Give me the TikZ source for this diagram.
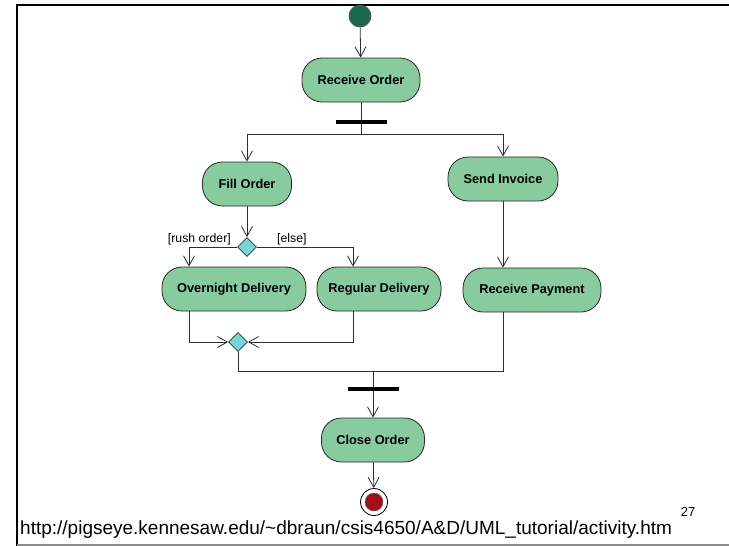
\documentclass[tikz,border=0pt]{standalone}
\usepackage{fontspec}
\setmainfont{Liberation Sans}
\usetikzlibrary{arrows.meta,shapes.geometric}
\definecolor{actgreen}{RGB}{135,203,158}
\definecolor{startgreen}{RGB}{28,104,78}
\definecolor{diamcyan}{RGB}{118,214,216}
\definecolor{finalred}{RGB}{160,16,24}
\definecolor{linegray}{RGB}{45,45,45}
\begin{document}
\begin{tikzpicture}[x=1pt,y=-1pt,
  act/.style={draw=black!85, line width=0.8pt, fill=actgreen, rounded corners=20pt,
    minimum height=44pt, inner sep=0pt, font=\fontsize{12.8}{14}\selectfont\bfseries},
  syncbar/.style={fill=black, inner sep=0pt, minimum width=51pt, minimum height=4.5pt},
  decision/.style={diamond, draw=black!80, line width=0.7pt, fill=diamcyan, inner sep=0pt, minimum size=19pt},
  flow/.style={draw=linegray, line width=0.8pt},
  arr/.style={flow, -{Straight Barb[length=10pt,width=11pt,line width=0.8pt]}},
  guard/.style={font=\fontsize{12.3}{14}\selectfont, inner sep=0pt}]
\useasboundingbox (0,0) rectangle (729,546);
% frame
\draw[line width=2.5pt] (17,546) -- (17,5) -- (729,5);
\draw[black!45, line width=1.2pt] (17,545) -- (729,545);

% nodes
\node[circle, fill=startgreen, draw=black!70, line width=0.6pt, minimum size=22pt, inner sep=0pt] (start) at (360,16) {};
\node[act, minimum width=118pt] (ro) at (361,80) {Receive Order};
\node[syncbar] (bar1) at (361,122) {};
\coordinate (forkm) at (361,134);
\node[act, minimum width=89pt] (fo) at (247,184) {Fill Order};
\node[act, minimum width=110pt] (si) at (503,179) {Send Invoice};
\node[decision] (d1) at (247,247) {};
\node[guard, anchor=east] (rushlbl) at (231,239) {[rush order]};
\node[guard, anchor=west] (elselbl) at (277,239) {[else]};
\coordinate (rushc) at (189,247);
\coordinate (elsec) at (353,247);
\node[act, minimum width=144pt] (od) at (234,289) {Overnight Delivery};
\node[act, minimum width=124pt] (rd) at (379,289) {Regular Delivery};
\node[act, minimum width=138pt] (rp) at (532,290) {Receive Payment};
\node[decision] (d2) at (238,342) {};
\coordinate (joinl) at (238,371);
\coordinate (joinm) at (373,371);
\coordinate (joinr) at (503,371);
\node[syncbar] (bar2) at (373,389) {};
\node[act, minimum width=103pt] (co) at (373,440) {Close Order};
\node[circle, draw=black, line width=0.8pt, fill=white, minimum size=27pt, inner sep=0pt] (end) at (374,502) {};
\node[circle, fill=finalred, draw=black!60, line width=0.4pt, minimum size=18pt, inner sep=0pt] (endin) at (end) {};

% connectors
\draw[arr] (start) -- (ro);
\draw[flow] (ro) -- (bar1);
\draw[flow] (bar1) -- (forkm);
\draw[arr] (forkm) -| (fo);
\draw[arr] (forkm) -| (si);
\draw[arr] (fo) -- (d1);
\draw[arr] (d1.west) -- (rushc) -- (rushc |- od.north);
\draw[arr] (d1.east) -- (elsec) -- (elsec |- rd.north);
\draw[arr] (si) -- (si |- rp.north);
\draw[arr] (rushc |- od.south) -- (rushc |- d2) -- (d2.west);
\draw[arr] (elsec |- rd.south) -- (elsec |- d2) -- (d2.east);
\draw[flow] (d2.south) -- (joinl) -- (joinr) -- (joinr |- rp.south);
\draw[flow] (joinm) -- (bar2);
\draw[arr] (bar2) -- (co);
\draw[arr] (co) -- (end);

% texts
\node[font=\fontsize{13}{15}\selectfont, inner sep=0pt] (pagenum) at (688,512) {27};
\node[font=\fontsize{19}{21}\selectfont, inner sep=0pt, anchor=west] (url) at (20,529.5) {http://pigseye.kennesaw.edu/\textasciitilde dbraun/csis4650/A\&D/UML\_tutorial/activity.htm};
\end{tikzpicture}
\end{document}
